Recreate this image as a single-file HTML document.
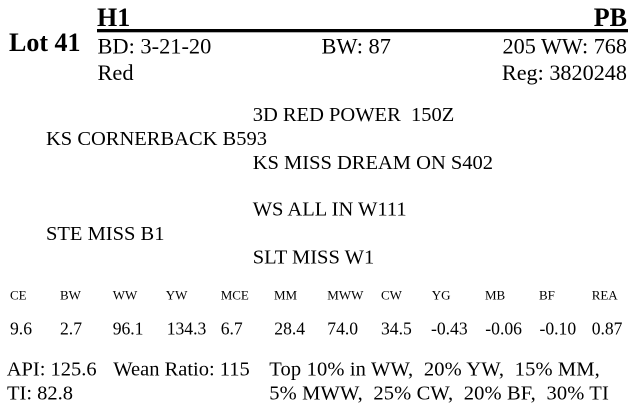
<!DOCTYPE html>
<html>
<head>
<meta charset="utf-8">
<style>
  html,body{margin:0;padding:0;background:#fff;}
  svg{display:block;}
  text{font-family:"Liberation Serif","Times New Roman",serif;fill:#000;white-space:pre;}
  .b{font-weight:bold;}
</style>
</head>
<body>
<svg width="641" height="411" viewBox="0 0 641 411" xmlns="http://www.w3.org/2000/svg" xml:space="preserve">
  <rect x="0" y="0" width="641" height="411" fill="#fff"/>
  <!-- header -->
  <text class="b" x="9" y="51" font-size="26">Lot 41</text>
  <text class="b" x="97" y="26" font-size="26">H1</text>
  <text class="b" x="627" y="26" font-size="26" text-anchor="end">PB</text>
  <rect x="97" y="29" width="531" height="3.3" fill="#000"/>
  <text x="97.5" y="53.3" font-size="22.4">BD: 3-21-20</text>
  <text x="321.5" y="53.3" font-size="22.4">BW: 87</text>
  <text x="627" y="53.3" font-size="22.2" text-anchor="end">205 WW: 768</text>
  <text x="97.5" y="80" font-size="22.4">Red</text>
  <text x="627" y="80" font-size="22.2" text-anchor="end">Reg: 3820248</text>

  <!-- pedigree -->
  <text x="252.7" y="121" font-size="20.5">3D RED POWER  150Z</text>
  <text x="46" y="145" font-size="20.5">KS CORNERBACK B593</text>
  <text x="252.7" y="169" font-size="20.5">KS MISS DREAM ON S402</text>
  <text x="252.7" y="215.7" font-size="20.5">WS ALL IN W111</text>
  <text x="46" y="240" font-size="20.5">STE MISS B1</text>
  <text x="252.7" y="263.3" font-size="20.5">SLT MISS W1</text>

  <!-- EPD labels -->
  <g font-size="13">
    <text x="10" y="299.3">CE</text>
    <text x="60" y="299.3">BW</text>
    <text x="112.7" y="299.3">WW</text>
    <text x="165.7" y="299.3">YW</text>
    <text x="220.7" y="299.3">MCE</text>
    <text x="274" y="299.3">MM</text>
    <text x="327.3" y="299.3">MWW</text>
    <text x="381" y="299.3">CW</text>
    <text x="431.7" y="299.3">YG</text>
    <text x="485" y="299.3">MB</text>
    <text x="539" y="299.3">BF</text>
    <text x="591.7" y="299.3">REA</text>
  </g>
  <!-- EPD values -->
  <g font-size="17.6">
    <text x="10" y="334.3">9.6</text>
    <text x="60" y="334.3">2.7</text>
    <text x="112.7" y="334.3">96.1</text>
    <text x="166.7" y="334.3">134.3</text>
    <text x="220.7" y="334.3">6.7</text>
    <text x="274.3" y="334.3">28.4</text>
    <text x="327.3" y="334.3">74.0</text>
    <text x="381" y="334.3">34.5</text>
    <text x="431" y="334.3">-0.43</text>
    <text x="485.3" y="334.3">-0.06</text>
    <text x="539.5" y="334.3">-0.10</text>
    <text x="591.7" y="334.3">0.87</text>
  </g>

  <!-- bottom -->
  <g font-size="20.5">
    <text x="6.7" y="375.7">API: 125.6</text>
    <text x="113.3" y="375.7">Wean Ratio: 115</text>
    <text x="269.3" y="375.7" textLength="330.5" lengthAdjust="spacing">Top 10% in WW,  20% YW,  15% MM,</text>
    <text x="7" y="399.3">TI: 82.8</text>
    <text x="269.3" y="399.3" textLength="339.5" lengthAdjust="spacing">5% MWW,  25% CW,  20% BF,  30% TI</text>
  </g>
</svg>
</body>
</html>
